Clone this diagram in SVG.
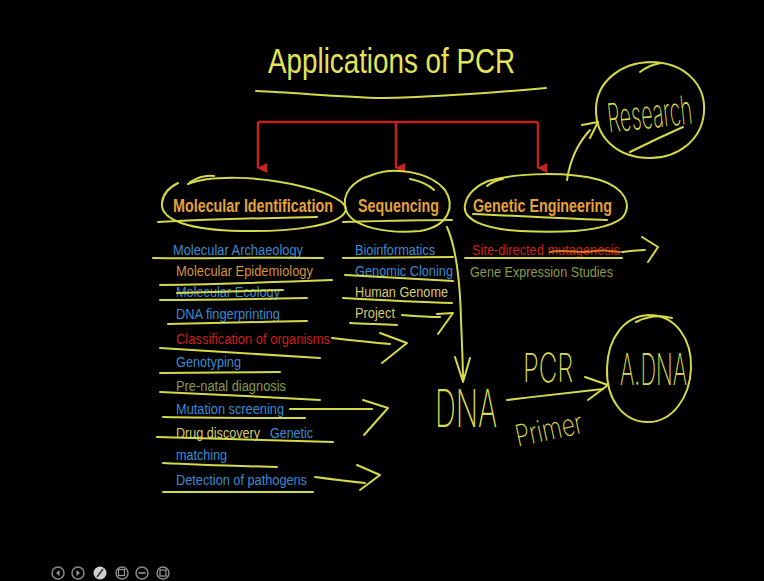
<svg xmlns="http://www.w3.org/2000/svg" width="764" height="581" viewBox="0 0 764 581">
  <defs>
    <style>
      .title { font-family: "Liberation Sans", Arial, sans-serif; font-size: 36px; fill: #e4e45a; }
      .cat { font-family: "Liberation Sans", Arial, sans-serif; font-weight: bold; font-size: 19px; fill: #e6a23a; }
      .item { font-family: "Liberation Sans", Arial, sans-serif; font-size: 14px; }
      .blue { fill: #3a8cd4; }
      .orange { fill: #d4923c; }
      .red { fill: #cc1f1a; }
      .green { fill: #8a9c48; }
      .cream { fill: #d8c872; }
      .hand { font-family: Inter, Lato, "Open Sans", sans-serif; font-weight: 200; fill: #d8dc4e; }
      .ink { fill: none; stroke: #d6da48; stroke-width: 2; stroke-linecap: round; stroke-linejoin: round; }
      .tree { fill: none; stroke: #c4221c; stroke-width: 2.5; }
      .icon { fill: none; stroke: #8a8a8a; stroke-width: 1.5; }
    </style>
    <marker id="redHead" viewBox="0 0 10 10" refX="5" refY="9" markerWidth="4" markerHeight="4" orient="auto-start-reverse" markerUnits="strokeWidth">
      <path d="M0,0 L10,0 L5,10 Z" fill="#c4221c"/>
    </marker>
  </defs>

  <rect width="764" height="581" fill="#000"/>

  <!-- heading -->
  <g id="title">
    <text class="title" transform="translate(268 73) scale(0.77 1)" x="0" y="0" textLength="321" lengthAdjust="spacingAndGlyphs">Applications of PCR</text>
    <path class="ink" d="M256,91 C300,93 340,97 383,98 C430,97 500,92 546,88"/>
  </g>

  <!-- branch lines from the heading to the three categories -->
  <g id="connectors">
    <path class="tree" d="M258,122 H538"/>
    <path class="tree" d="M258,122 V168" marker-end="url(#redHead)"/>
    <path class="tree" d="M396,122 V168" marker-end="url(#redHead)"/>
    <path class="tree" d="M538,122 V168" marker-end="url(#redHead)"/>
  </g>

  <!-- category: molecular identification -->
  <g id="molecular-identification">
    <path class="ink" d="M188,184 C210,175 260,176 300,186 C330,193 350,203 345,212 C338,226 290,232 240,231 C195,230 160,222 162,203 C163,192 172,186 178,183"/>
    <path class="ink" d="M190,182 C200,176 208,175 214,176"/>
    <text class="cat" transform="translate(173 212) scale(0.755 1)" x="0" y="0" textLength="212" lengthAdjust="spacingAndGlyphs">Molecular Identification</text>
    <path class="ink" d="M158,222 C200,220 260,218 317,217"/>
    <text class="item blue" x="173" y="255" textLength="130" lengthAdjust="spacingAndGlyphs">Molecular Archaeology</text>
    <path class="ink" d="M153,258 C200,259 260,257 323,258"/>
    <text class="item orange" x="176" y="276" textLength="137" lengthAdjust="spacingAndGlyphs">Molecular Epidemiology</text>
    <path class="ink" d="M160,285 C220,284 280,282 332,280"/>
    <text class="item blue" x="176" y="297" textLength="104" lengthAdjust="spacingAndGlyphs">Molecular Ecology</text>
    <path class="ink" d="M177,293 C210,292 250,291 283,290"/>
    <path class="ink" d="M160,300 C210,300 260,299 307,298"/>
    <text class="item blue" x="176" y="319" textLength="104" lengthAdjust="spacingAndGlyphs">DNA fingerprinting</text>
    <path class="ink" d="M168,324 C210,323 260,322 307,321"/>
    <text class="item red" x="176" y="344" textLength="154" lengthAdjust="spacingAndGlyphs">Classification of organisms</text>
    <path class="ink" d="M160,348 C210,351 270,355 320,358"/>
    <text class="item blue" x="176" y="367" textLength="65" lengthAdjust="spacingAndGlyphs">Genotyping</text>
    <path class="ink" d="M160,373 C200,373 240,372 280,372"/>
    <text class="item green" x="176" y="391" textLength="110" lengthAdjust="spacingAndGlyphs">Pre-natal diagnosis</text>
    <path class="ink" d="M160,392 C210,394 270,397 320,400"/>
    <text class="item blue" x="176" y="414" textLength="108" lengthAdjust="spacingAndGlyphs">Mutation screening</text>
    <path class="ink" d="M163,417 C210,418 260,418 305,418"/>
    <text class="item cream" x="176" y="438" textLength="84" lengthAdjust="spacingAndGlyphs">Drug discovery</text>
    <text class="item blue" x="270" y="438" textLength="43" lengthAdjust="spacingAndGlyphs">Genetic</text>
    <path class="ink" d="M157,437 C220,439 280,440 333,442"/>
    <text class="item blue" x="176" y="460" textLength="51" lengthAdjust="spacingAndGlyphs">matching</text>
    <path class="ink" d="M163,463 C200,465 240,466 277,467"/>
    <text class="item blue" x="176" y="485" textLength="131" lengthAdjust="spacingAndGlyphs">Detection of pathogens</text>
    <path class="ink" d="M163,492 C210,492 260,492 313,492"/>
  </g>

  <!-- category: sequencing -->
  <g id="sequencing">
    <path class="ink" d="M372,175 C395,166 430,172 445,190 C455,205 450,226 420,231 C390,234 352,228 346,210 C341,194 352,181 372,175"/>
    <path class="ink" d="M410,179 C420,181 428,184 434,190"/>
    <text class="cat" transform="translate(358 212) scale(0.755 1)" x="0" y="0" textLength="107.3" lengthAdjust="spacingAndGlyphs">Sequencing</text>
    <path class="ink" d="M343,222 C380,221 420,220 452,220"/>
    <text class="item blue" x="355" y="255" textLength="80" lengthAdjust="spacingAndGlyphs">Bioinformatics</text>
    <path class="ink" d="M343,258 C380,258 420,257 453,257"/>
    <text class="item blue" x="355" y="276" textLength="98" lengthAdjust="spacingAndGlyphs">Genomic Cloning</text>
    <path class="ink" d="M345,275 C380,277 420,279 453,281"/>
    <text class="item cream" x="355" y="297" textLength="93" lengthAdjust="spacingAndGlyphs">Human Genome</text>
    <path class="ink" d="M343,298 C380,300 420,302 452,303"/>
    <text class="item cream" x="355" y="318" textLength="40" lengthAdjust="spacingAndGlyphs">Project</text>
    <path class="ink" d="M350,323 C365,324 380,324 397,325"/>
  </g>

  <!-- category: genetic engineering -->
  <g id="genetic-engineering">
    <path class="ink" d="M488,181 C520,172 570,172 600,180 C625,188 633,205 622,218 C605,232 560,233 520,231 C485,229 462,220 465,205 C467,193 478,185 488,181"/>
    <path class="ink" d="M487,186 C492,182 497,180 503,179"/>
    <text class="cat" transform="translate(473 212) scale(0.755 1)" x="0" y="0" textLength="184.1" lengthAdjust="spacingAndGlyphs">Genetic Engineering</text>
    <path class="ink" d="M473,214 C520,216 570,219 607,220"/>
    <text class="item red" x="472" y="255" textLength="148" lengthAdjust="spacingAndGlyphs">Site-directed mutagenesis</text>
    <path d="M550,252 C565,249 580,254 595,251 C605,249 613,252 620,252" fill="none" stroke="#d8781e" stroke-width="2" stroke-linecap="round"/>
    <path class="ink" d="M465,258 C520,258 570,258 622,258"/>
    <text class="item green" x="470" y="277" textLength="143" lengthAdjust="spacingAndGlyphs">Gene Expression Studies</text>
  </g>

  <!-- hand-drawn arrows and notes -->
  <g id="annotations">
    <!-- project -->
    <path class="ink" d="M402,315 C415,316 428,317 440,317"/>
    <path class="ink" d="M437,314 L453,313 L438,334"/>
    <!-- classification -->
    <path class="ink" d="M332,338 C350,340 368,342 390,344"/>
    <path class="ink" d="M380,333 L407,343 L382,363"/>
    <!-- mutation screening -->
    <path class="ink" d="M290,409 C315,409 340,409 372,409"/>
    <path class="ink" d="M363,400 L388,408 L364,435"/>
    <!-- detection of pathogens -->
    <path class="ink" d="M315,477 C330,479 345,481 365,483"/>
    <path class="ink" d="M357,465 L380,475 L360,490"/>
    <!-- site-directed mutagenesis -->
    <path class="ink" d="M622,252 C630,251 637,250 645,250"/>
    <path class="ink" d="M642,237 L658,247 L648,262"/>
    <!-- sequencing down to DNA -->
    <path class="ink" d="M447,227 C455,245 460,280 461,320 C462,345 463,365 463,381"/>
    <path class="ink" d="M455,357 L463,382 L470,358"/>
    <!-- genetic engineering up to research -->
    <path class="ink" d="M567,180 C570,160 578,143 590,130"/>
    <path class="ink" d="M582,125 L598,122 L590,138"/>
  </g>

  <g id="research">
    <path class="ink" d="M650,62 C685,62 706,85 704,112 C702,140 678,158 650,158 C618,158 595,138 596,108 C597,82 620,63 650,62"/>
    <path class="ink" d="M640,72 C648,66 654,64 661,63"/>
    <g transform="rotate(-6 650 112)">
      <text class="hand" font-size="40" transform="translate(607 128) scale(0.48 1)" x="0" y="0" textLength="177" lengthAdjust="spacingAndGlyphs">Research</text>
    </g>
    <path class="ink" d="M630,152 C648,143 665,135 683,127"/>
  </g>

  <g id="dna-amplification">
    <text class="hand" font-size="52" transform="translate(435 427) scale(0.55 1)" x="0" y="0" textLength="113" lengthAdjust="spacingAndGlyphs">DNA</text>
    <text class="hand" font-size="40" transform="translate(523 382) scale(0.62 1)" x="0" y="0" textLength="81" lengthAdjust="spacingAndGlyphs">PCR</text>
    <path class="ink" d="M507,400 C540,396 575,392 603,389"/>
    <path class="ink" d="M585,377 L608,385 L588,400"/>
    <g transform="rotate(-12 549 430)">
      <text class="hand" font-size="30" transform="translate(515 440) scale(0.73 1)" x="0" y="0" textLength="93" lengthAdjust="spacingAndGlyphs">Primer</text>
    </g>
    <path class="ink" d="M649,315 C676,315 692,340 691,368 C690,398 672,422 648,422 C622,422 606,398 607,368 C608,338 624,316 649,315"/>
    <path class="ink" d="M636,322 C648,316 660,315 672,318"/>
    <text class="hand" font-size="44" transform="translate(620 385) scale(0.49 1)" x="0" y="0" textLength="137" lengthAdjust="spacingAndGlyphs">A.DNA</text>
  </g>

  <!-- player controls -->
  <g id="controls">
    <circle class="icon" cx="58" cy="573" r="6"/>
    <path d="M59.5,570 L56,573 L59.5,576 Z" fill="#9a9a9a"/>
    <circle class="icon" cx="78" cy="573" r="6"/>
    <path d="M76.5,570 L80,573 L76.5,576 Z" fill="#9a9a9a"/>
    <circle cx="100" cy="573" r="6.5" fill="#d0d0d0"/>
    <path d="M97,577 L103,569" stroke="#333" stroke-width="1.6"/>
    <circle class="icon" cx="122" cy="573" r="6"/>
    <rect x="118.5" y="569.5" width="6" height="6" fill="none" stroke="#9a9a9a" stroke-width="1.2"/>
    <circle class="icon" cx="142" cy="573" r="6"/>
    <path d="M138.5,573 H145.5" stroke="#9a9a9a" stroke-width="1.6"/>
    <circle class="icon" cx="163" cy="573" r="6"/>
    <rect x="160" y="570" width="6" height="6" fill="none" stroke="#9a9a9a" stroke-width="1.2"/>
  </g>
</svg>
